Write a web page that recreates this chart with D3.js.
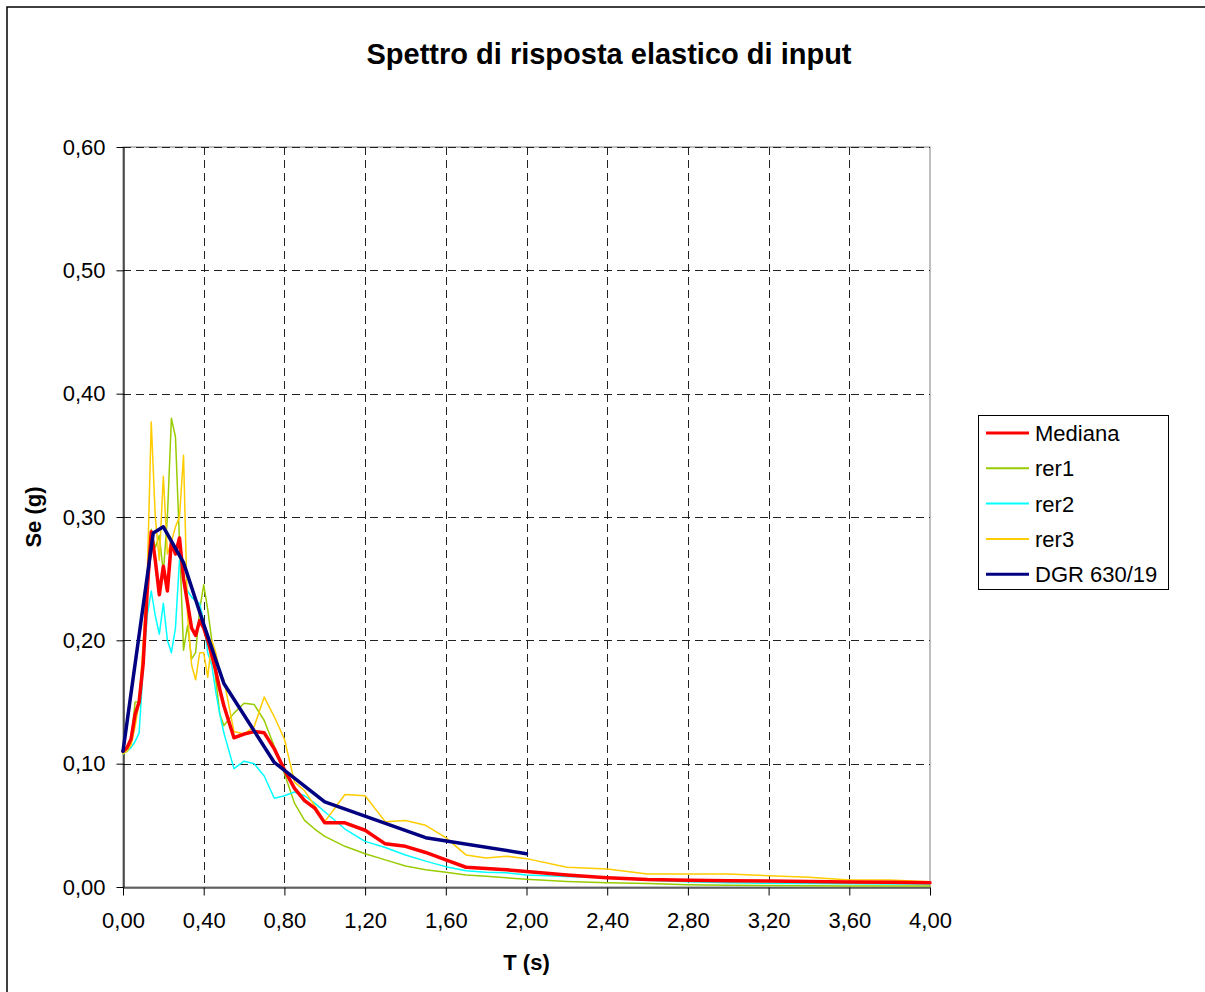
<!DOCTYPE html>
<html>
<head>
<meta charset="utf-8">
<script src="https://cdn.jsdelivr.net/npm/d3@7"></script>
<style>
  html, body { margin: 0; padding: 0; background: #fff; }
  svg { display: block; font-family: "Liberation Sans", Arial, sans-serif; }
</style>
</head>
<body>
<svg id="chart" width="1205" height="992"></svg>
<script>
// ---------------- DATA ----------------
const periods = [0, 0.02, 0.04, 0.06, 0.08, 0.10, 0.12, 0.14, 0.16, 0.18, 0.20, 0.22, 0.24, 0.26, 0.28, 0.30,
  0.32, 0.34, 0.36, 0.38, 0.40, 0.42, 0.44, 0.46, 0.48, 0.50, 0.55, 0.60, 0.65, 0.70, 0.75, 0.80, 0.85, 0.90,
  0.95, 1.00, 1.10, 1.20, 1.30, 1.40, 1.50, 1.60, 1.70, 1.80, 1.90, 2.00, 2.20, 2.40, 2.60, 2.80, 3.00,
  3.20, 3.40, 3.60, 3.80, 4.00];

const mediana = [0.110, 0.113, 0.120, 0.140, 0.150, 0.181, 0.240, 0.288, 0.265, 0.237, 0.260, 0.240, 0.280, 0.270,
  0.283, 0.250, 0.230, 0.210, 0.204, 0.216, 0.210, 0.200, 0.188, 0.175, 0.160, 0.147, 0.121, 0.124, 0.126, 0.125,
  0.112, 0.095, 0.080, 0.070, 0.064, 0.052, 0.052, 0.046, 0.035, 0.033, 0.028, 0.022, 0.016, 0.015, 0.014, 0.0125,
  0.0097, 0.0075, 0.0060, 0.0055, 0.0050, 0.0049, 0.0045, 0.0040, 0.0038, 0.0035];

const rer1 = [0.108, 0.112, 0.118, 0.150, 0.150, 0.187, 0.250, 0.290, 0.275, 0.285, 0.255, 0.300, 0.380, 0.365,
  0.280, 0.192, 0.212, 0.185, 0.190, 0.225, 0.245, 0.225, 0.200, 0.168, 0.140, 0.131, 0.141, 0.149, 0.148, 0.135,
  0.114, 0.092, 0.068, 0.054, 0.047, 0.041, 0.033, 0.027, 0.022, 0.017, 0.014, 0.012, 0.0097, 0.0088, 0.0075, 0.0062,
  0.0045, 0.0035, 0.0028, 0.0018, 0.0015, 0.0012, 0.0010, 0.0009, 0.0008, 0.0008];

const rer2 = [0.108, 0.110, 0.113, 0.118, 0.125, 0.178, 0.220, 0.240, 0.220, 0.205, 0.230, 0.200, 0.190, 0.210,
  0.265, 0.250, 0.240, 0.235, 0.232, 0.230, 0.215, 0.190, 0.180, 0.158, 0.140, 0.125, 0.096, 0.102, 0.100, 0.090,
  0.072, 0.074, 0.077, 0.074, 0.068, 0.061, 0.047, 0.037, 0.032, 0.026, 0.021, 0.0165, 0.0132, 0.012, 0.0115, 0.0097,
  0.0085, 0.0075, 0.0055, 0.0043, 0.0035, 0.0030, 0.0028, 0.0026, 0.0025, 0.0024];

const rer3 = [0.108, 0.110, 0.115, 0.130, 0.150, 0.198, 0.250, 0.377, 0.300, 0.265, 0.333, 0.270, 0.280, 0.292,
  0.300, 0.350, 0.220, 0.180, 0.168, 0.190, 0.190, 0.170, 0.200, 0.190, 0.173, 0.168, 0.126, 0.124, 0.130, 0.154,
  0.138, 0.120, 0.085, 0.078, 0.066, 0.053, 0.075, 0.074, 0.053, 0.054, 0.050, 0.040, 0.026, 0.0235, 0.025, 0.023,
  0.016, 0.0145, 0.0105, 0.0105, 0.0105, 0.0092, 0.0080, 0.0057, 0.0057, 0.0043];

const dgrPeriods = [0, 0.15, 0.20, 0.30, 0.40, 0.50, 0.75, 1.00, 1.50, 2.00];
const dgr = [0.110, 0.287, 0.292, 0.263, 0.213, 0.165, 0.101, 0.069, 0.040, 0.027];

const xTicks = [0, 0.4, 0.8, 1.2, 1.6, 2.0, 2.4, 2.8, 3.2, 3.6, 4.0];
const yTicks = [0, 0.1, 0.2, 0.3, 0.4, 0.5, 0.6];

const seriesNames = ["Mediana", "rer1", "rer2", "rer3", "DGR 630/19"];
const seriesColors = ["#FF0000", "#99CC00", "#00FFFF", "#FFCC00", "#000080"];
const seriesWidths = [3.5, 1.5, 1.5, 1.5, 3.5];

const titleText = "Spettro di risposta elastico di input";
const xTitle = "T (s)";
const yTitle = "Se (g)";

// ---------------- LAYOUT ----------------
const svg = d3.select("#chart");
const pLeft = 123, pRight = 930, pTop = 147, pBottom = 887;
const x = d3.scaleLinear().domain([0, 4]).range([pLeft, pRight]);
const y = d3.scaleLinear().domain([0, 0.6]).range([pBottom, pTop]);
const fmt = v => d3.format(".2f")(v).replace(".", ",");

// outer chart border
svg.append("rect").attr("x", 7).attr("y", 7).attr("width", 1400).attr("height", 1200)
  .attr("fill", "#fff").attr("stroke", "#000").attr("stroke-width", 1.5);

// title
svg.append("text").attr("x", 609).attr("y", 64).attr("text-anchor", "middle")
  .attr("font-size", 29).attr("font-weight", "bold").text(titleText);

// plot-area border (gray)
svg.append("rect").attr("x", pLeft).attr("y", pTop).attr("width", pRight - pLeft).attr("height", pBottom - pTop)
  .attr("fill", "none").attr("stroke", "#808080").attr("stroke-width", 1);

// gridlines
const grid = svg.append("g").attr("stroke", "#222").attr("stroke-width", 1)
  .attr("stroke-dasharray", "8,5").attr("shape-rendering", "crispEdges");
grid.selectAll("line.h").data(yTicks.filter(d => d > 0)).join("line")
  .attr("x1", pLeft).attr("x2", pRight).attr("y1", d => Math.round(y(d)) + 0.5).attr("y2", d => Math.round(y(d)) + 0.5);
grid.selectAll("line.v").data(xTicks.filter(d => d > 0 && d < 4)).join("line")
  .attr("y1", pTop).attr("y2", pBottom).attr("x1", d => Math.round(x(d)) + 0.5).attr("x2", d => Math.round(x(d)) + 0.5);

// axes
const xAxis = d3.axisBottom(x).tickValues(xTicks).tickFormat(fmt).tickSizeOuter(0).tickSizeInner(8).tickPadding(17);
const yAxis = d3.axisLeft(y).tickValues(yTicks).tickFormat(fmt).tickSizeOuter(0).tickSizeInner(7).tickPadding(11);

const gx = svg.append("g").attr("transform", `translate(0,${pBottom + 0.5})`).call(xAxis);
const gy = svg.append("g").attr("transform", `translate(${pLeft + 0.5},0)`).call(yAxis);
[gx, gy].forEach(g => {
  g.select(".domain").attr("stroke", "#000").attr("stroke-width", 1.2);
  g.selectAll(".tick line").attr("stroke", "#000");
  g.selectAll(".tick text").attr("font-size", 22).attr("fill", "#000")
    .attr("font-family", "'Liberation Sans', Arial, sans-serif");
});

// axis titles
svg.append("text").attr("x", (pLeft + pRight) / 2).attr("y", 970).attr("text-anchor", "middle")
  .attr("font-size", 22).attr("font-weight", "bold").text(xTitle);
svg.append("text").attr("transform", `translate(41,${(pTop + pBottom) / 2}) rotate(-90)`)
  .attr("text-anchor", "middle").attr("font-size", 22).attr("font-weight", "bold").text(yTitle);

// series
const line = d3.line().x(d => x(d[0])).y(d => y(d[1])).curve(d3.curveLinear);
const seriesData = [
  d3.zip(periods, mediana),
  d3.zip(periods, rer1),
  d3.zip(periods, rer2),
  d3.zip(periods, rer3),
  d3.zip(dgrPeriods, dgr)
];
const drawOrder = [1, 2, 3, 0, 4];
const gLines = svg.append("g").attr("fill", "none").attr("stroke-linejoin", "round").attr("stroke-linecap", "round");
drawOrder.forEach(i => {
  gLines.append("path").datum(seriesData[i]).attr("d", line)
    .attr("stroke", seriesColors[i]).attr("stroke-width", seriesWidths[i]);
});

// legend
const lg = svg.append("g");
lg.append("rect").attr("x", 978.5).attr("y", 415.5).attr("width", 190).attr("height", 174)
  .attr("fill", "#fff").attr("stroke", "#000").attr("stroke-width", 1);
seriesNames.forEach((name, i) => {
  const yy = 433 + i * 35.3;
  lg.append("line").attr("x1", 986).attr("x2", 1029).attr("y1", yy).attr("y2", yy)
    .attr("stroke", seriesColors[i]).attr("stroke-width", i === 0 || i === 4 ? 3 : 2);
  lg.append("text").attr("x", 1035).attr("y", yy + 8).attr("font-size", 22).text(name);
});
</script>
</body>
</html>
